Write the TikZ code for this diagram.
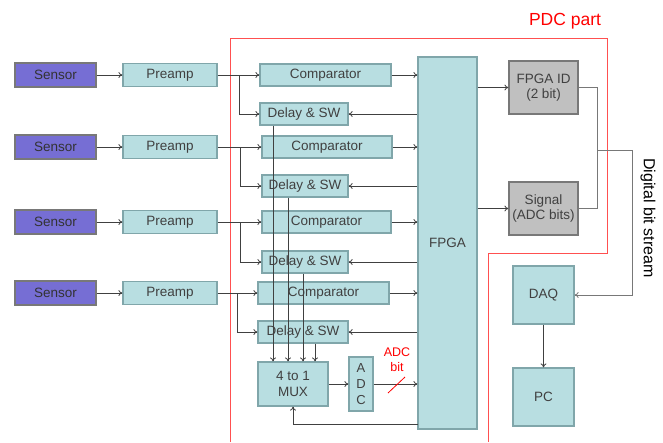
\documentclass[tikz,border=0pt]{standalone}
\usepackage{fontspec}
\setmainfont{Liberation Sans}
\usepackage{tikz}
\usepackage{xcolor}
\usetikzlibrary{arrows.meta}
\definecolor{cSensor}{RGB}{118,110,212}
\definecolor{cBlk}{RGB}{184,222,225}
\definecolor{cBlkLine}{RGB}{128,166,170}
\definecolor{cGrey}{RGB}{192,192,192}
\definecolor{cGreyLine}{RGB}{120,120,120}
\definecolor{cWire}{RGB}{64,64,64}
\definecolor{cFrame}{RGB}{255,80,80}
\tikzset{
	sensor/.style  ={rectangle, draw=cGreyLine, line width=1.2pt, fill=cSensor, text=black!80, minimum height=24pt, minimum width=81pt, inner sep=0pt},
	blk/.style     ={rectangle, draw=cBlkLine, line width=1.2pt, fill=cBlk, text=black!75, align=center, inner sep=0pt},
	greyblk/.style ={rectangle, draw=cGreyLine, line width=1.2pt, fill=cGrey, text=black!75, align=center, inner sep=0pt},
	sig/.style     ={-{To[length=4pt,width=6pt]}, cWire, line width=0.8pt},
	wire/.style    ={cWire, line width=0.8pt},
	buswire/.style ={cGreyLine, line width=1pt},
}
\begin{document}
\begin{tikzpicture}[x=1pt, y=-1pt, font=\fontsize{13.5}{15.5}\selectfont]
	\useasboundingbox (0,0) rectangle (663,442);
	% PDC frame
	\draw[cFrame, line width=1pt] (230,442) -- (230,38) -- (607,38) -- (607,253) -- (488,253) -- (488,442);
	\node[text=red, font=\fontsize{17.5}{19}\selectfont] (pdc) at (565,21) {PDC part};
	% central blocks
	\node[blk, minimum width=59pt, minimum height=372pt] (fpga) at (447.5,243) {FPGA};
	\node[blk, minimum width=70pt, minimum height=44pt] (mux) at (293,384) {4 to 1\\MUX};
	\node[blk, minimum width=24pt, minimum height=54pt, font=\fontsize{13}{16}\selectfont] (adc) at (361,384) {A\\D\\C};
	\node[greyblk, minimum width=69pt, minimum height=53pt] (fid) at (543.5,87.5) {FPGA ID\\(2 bit)};
	\node[greyblk, minimum width=69pt, minimum height=53pt] (sgl) at (543.5,208.5) {Signal\\(ADC bits)};
	\node[blk, minimum width=61pt, minimum height=58pt] (daq) at (543.5,295) {DAQ};
	\node[blk, minimum width=61pt, minimum height=58pt] (pc) at (543.5,397) {PC};
	% four channels
	\foreach \i/\y/\dy/\bx/\cx/\cw/\dx/\dw in {1/75/114/239/325.5/131/304/88, 2/147/186/240/327/130/305/86, 3/222/262/240/326.5/129/305/86, 4/293/332/237/323.5/131/303/90} {
		\node[sensor] (sen\i) at (55.5,\y) {Sensor};
		\node[blk, minimum width=94pt, minimum height=23pt] (pre\i) at (170,\y) {Preamp};
		\node[blk, minimum width=\cw pt, minimum height=22pt] (cmp\i) at (\cx,\y) {Comparator};
		\node[blk, minimum width=\dw pt, minimum height=22pt] (dly\i) at (\dx,\dy) {Delay \& SW};
		\coordinate (br\i) at (\bx,\y);
		\draw[sig] (sen\i) -- (pre\i);
		\draw[sig] (pre\i.east) -- (pre\i.east -| cmp\i.west);
		\draw[sig] (br\i) |- (dly\i.west);
		\draw[sig] (cmp\i.east) -- (cmp\i.east -| fpga.west);
		\draw[sig] (fpga.west |- dly\i.east) -- (dly\i.east);
	}
	% delay outputs into the MUX
	\foreach \i/\mx in {1/273, 2/288, 3/303, 4/315} {
		\coordinate (mx\i) at (\mx,0);
		\draw[sig] (mx\i |- dly\i.south) -- (mx\i |- mux.north);
	}
	\draw[sig] (mux) -- (adc);
	\draw[sig] (adc.east) -- (adc.east -| fpga.west);
	\draw[red, line width=0.8pt] (388,393) -- (405,377);
	\node[text=red, align=center, inner sep=0pt, font=\fontsize{12.5}{15}\selectfont] (adcbit) at (397,360) {ADC\\bit};
	\coordinate (fb) at (418,424);
	\draw[sig] (fb) -| (mux.south);
	% FPGA outputs and bit stream
	\draw[sig] (fpga.east |- fid.west) -- (fid.west);
	\draw[sig] (fpga.east |- sgl.west) -- (sgl.west);
	\coordinate (jn) at (597,150);
	\coordinate (bus) at (632,150);
	\draw[buswire] (fid.east) -| (jn) |- (sgl.east);
	\draw[buswire] (jn) -- (bus);
	\draw[sig, cGreyLine] (bus) |- (daq.east);
	\node[rotate=-90, font=\fontsize{16}{18}\selectfont] (dbs) at (648,218) {Digital bit stream};
	\draw[sig] (daq) -- (pc);
\end{tikzpicture}
\end{document}
